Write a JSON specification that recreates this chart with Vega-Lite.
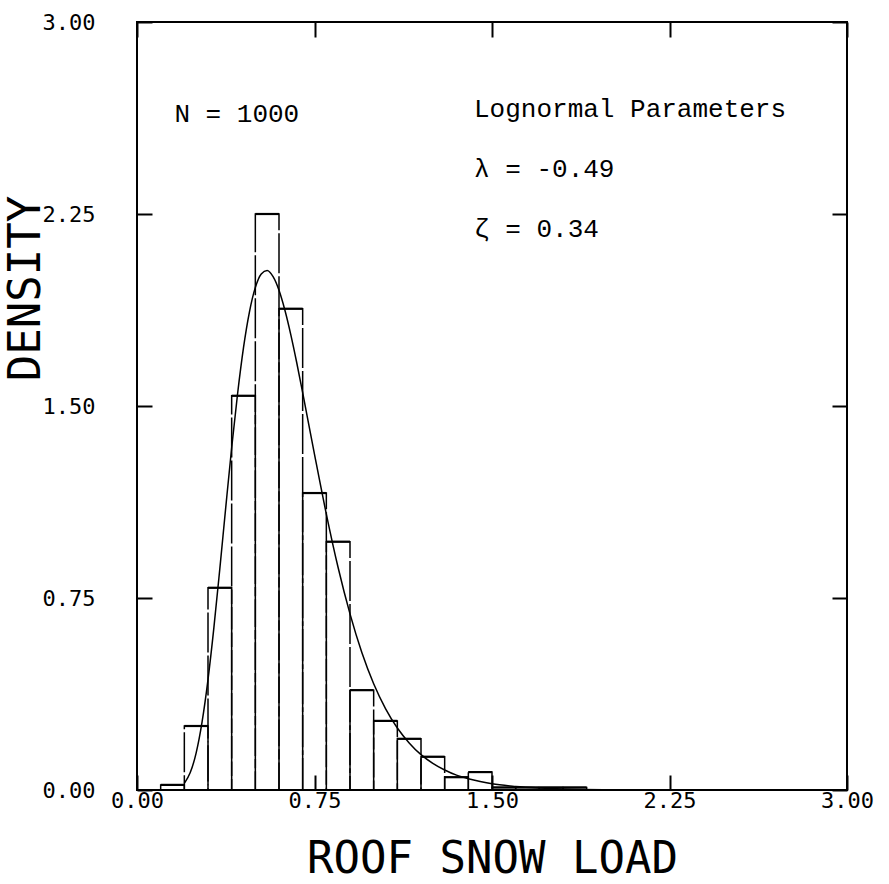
{
  "$schema": "https://vega.github.io/schema/vega-lite/v6.json",
  "width": 710,
  "height": 768,
  "autosize": {"type": "none"},
  "padding": {"left": 137, "top": 22, "right": 42, "bottom": 94},
  "background": "white",
  "config": {
    "view": {"stroke": "black", "strokeWidth": 2},
    "axis": {
      "domain": false,
      "grid": false,
      "tickSize": -15,
      "tickWidth": 2,
      "tickColor": "black",
      "labelFlush": false,
      "labelOverlap": false,
      "labelFont": "DejaVu Sans Mono",
      "labelFontSize": 22,
      "labelColor": "black",
      "titleFont": "DejaVu Sans Mono",
      "titleFontWeight": "normal",
      "titleColor": "black"
    }
  },
  "datasets": {
    "bins": [
      {"x0": 0.1, "x1": 0.2, "d": 0.02},
      {"x0": 0.2, "x1": 0.3, "d": 0.25},
      {"x0": 0.3, "x1": 0.4, "d": 0.79},
      {"x0": 0.4, "x1": 0.5, "d": 1.54},
      {"x0": 0.5, "x1": 0.6, "d": 2.25},
      {"x0": 0.6, "x1": 0.7, "d": 1.88},
      {"x0": 0.7, "x1": 0.8, "d": 1.16},
      {"x0": 0.8, "x1": 0.9, "d": 0.97},
      {"x0": 0.9, "x1": 1.0, "d": 0.39},
      {"x0": 1.0, "x1": 1.1, "d": 0.27},
      {"x0": 1.1, "x1": 1.2, "d": 0.2},
      {"x0": 1.2, "x1": 1.3, "d": 0.13},
      {"x0": 1.3, "x1": 1.4, "d": 0.05},
      {"x0": 1.4, "x1": 1.5, "d": 0.07},
      {"x0": 1.5, "x1": 1.6, "d": 0.01},
      {"x0": 1.6, "x1": 1.7, "d": 0.01},
      {"x0": 1.7, "x1": 1.8, "d": 0.01},
      {"x0": 1.8, "x1": 1.9, "d": 0.01}
    ],
    "curve": [
      {"x": 0.2, "f": 0.026},
      {"x": 0.225, "f": 0.068},
      {"x": 0.25, "f": 0.145},
      {"x": 0.275, "f": 0.266},
      {"x": 0.3, "f": 0.431},
      {"x": 0.325, "f": 0.635},
      {"x": 0.35, "f": 0.865},
      {"x": 0.375, "f": 1.104},
      {"x": 0.4, "f": 1.337},
      {"x": 0.425, "f": 1.548},
      {"x": 0.45, "f": 1.728},
      {"x": 0.475, "f": 1.867},
      {"x": 0.5, "f": 1.963},
      {"x": 0.525, "f": 2.016},
      {"x": 0.55, "f": 2.029},
      {"x": 0.575, "f": 2.005},
      {"x": 0.6, "f": 1.952},
      {"x": 0.625, "f": 1.874},
      {"x": 0.65, "f": 1.778},
      {"x": 0.675, "f": 1.669},
      {"x": 0.7, "f": 1.552},
      {"x": 0.75, "f": 1.311},
      {"x": 0.8, "f": 1.078},
      {"x": 0.85, "f": 0.868},
      {"x": 0.9, "f": 0.688},
      {"x": 0.95, "f": 0.537},
      {"x": 1.0, "f": 0.415},
      {"x": 1.05, "f": 0.318},
      {"x": 1.1, "f": 0.242},
      {"x": 1.15, "f": 0.184},
      {"x": 1.2, "f": 0.138},
      {"x": 1.25, "f": 0.104},
      {"x": 1.3, "f": 0.078},
      {"x": 1.35, "f": 0.058},
      {"x": 1.4, "f": 0.044},
      {"x": 1.45, "f": 0.033},
      {"x": 1.5, "f": 0.024},
      {"x": 1.6, "f": 0.014},
      {"x": 1.7, "f": 0.008},
      {"x": 1.8, "f": 0.004},
      {"x": 2.0, "f": 0.001}
    ],
    "notes": [
      {"x": 0.158, "y": 2.609, "t": "N = 1000"},
      {"x": 1.424, "y": 2.627, "t": "Lognormal Parameters"},
      {"x": 1.424, "y": 2.395, "t": "λ = -0.49"},
      {"x": 1.424, "y": 2.161, "t": "ζ = 0.34"}
    ]
  },
  "layer": [
    {
      "data": {"name": "bins"},
      "mark": {"type": "rect", "fill": "transparent", "stroke": "black", "strokeWidth": 1.5, "strokeDash": [40, 3]},
      "encoding": {
        "x": {"field": "x0", "type": "quantitative", "scale": {"domain": [0, 3], "nice": false, "zero": false},
          "axis": {"orient": "bottom", "values": [0, 0.75, 1.5, 2.25, 3], "format": ".2f", "labelPadding": 15,
            "title": "ROOF SNOW LOAD", "titleFontSize": 44, "titleBaseline": "alphabetic", "titleY": 82}},
        "x2": {"field": "x1"},
        "y": {"field": "d", "type": "quantitative", "scale": {"domain": [0, 3], "nice": false},
          "axis": {"orient": "left", "values": [0, 0.75, 1.5, 2.25, 3], "format": ".2f", "labelPadding": 57,
            "title": "DENSITY", "titleFontSize": 44, "titleBaseline": "alphabetic", "titleX": -98, "titleY": 266}},
        "y2": {"datum": 0}
      }
    },
    {
      "data": {"name": "bins"},
      "mark": {"type": "rule", "stroke": "black", "strokeWidth": 2.2},
      "encoding": {
        "x": {"field": "x0", "type": "quantitative", "axis": null},
        "x2": {"field": "x1"},
        "y": {"field": "d", "type": "quantitative", "axis": null}
      }
    },
    {
      "data": {"name": "curve"},
      "mark": {"type": "line", "stroke": "black", "strokeWidth": 1.5, "interpolate": "monotone"},
      "encoding": {
        "x": {"field": "x", "type": "quantitative",
          "axis": {"orient": "top", "values": [0, 0.75, 1.5, 2.25, 3], "labels": false, "title": null}},
        "y": {"field": "f", "type": "quantitative",
          "axis": {"orient": "right", "values": [0, 0.75, 1.5, 2.25, 3], "labels": false, "title": null}}
      }
    },
    {
      "data": {"name": "notes"},
      "mark": {"type": "text", "align": "left", "baseline": "alphabetic", "font": "Liberation Mono", "fontSize": 26, "color": "black"},
      "encoding": {
        "x": {"field": "x", "type": "quantitative", "axis": null},
        "y": {"field": "y", "type": "quantitative", "axis": null},
        "text": {"field": "t"}
      }
    }
  ]
}
